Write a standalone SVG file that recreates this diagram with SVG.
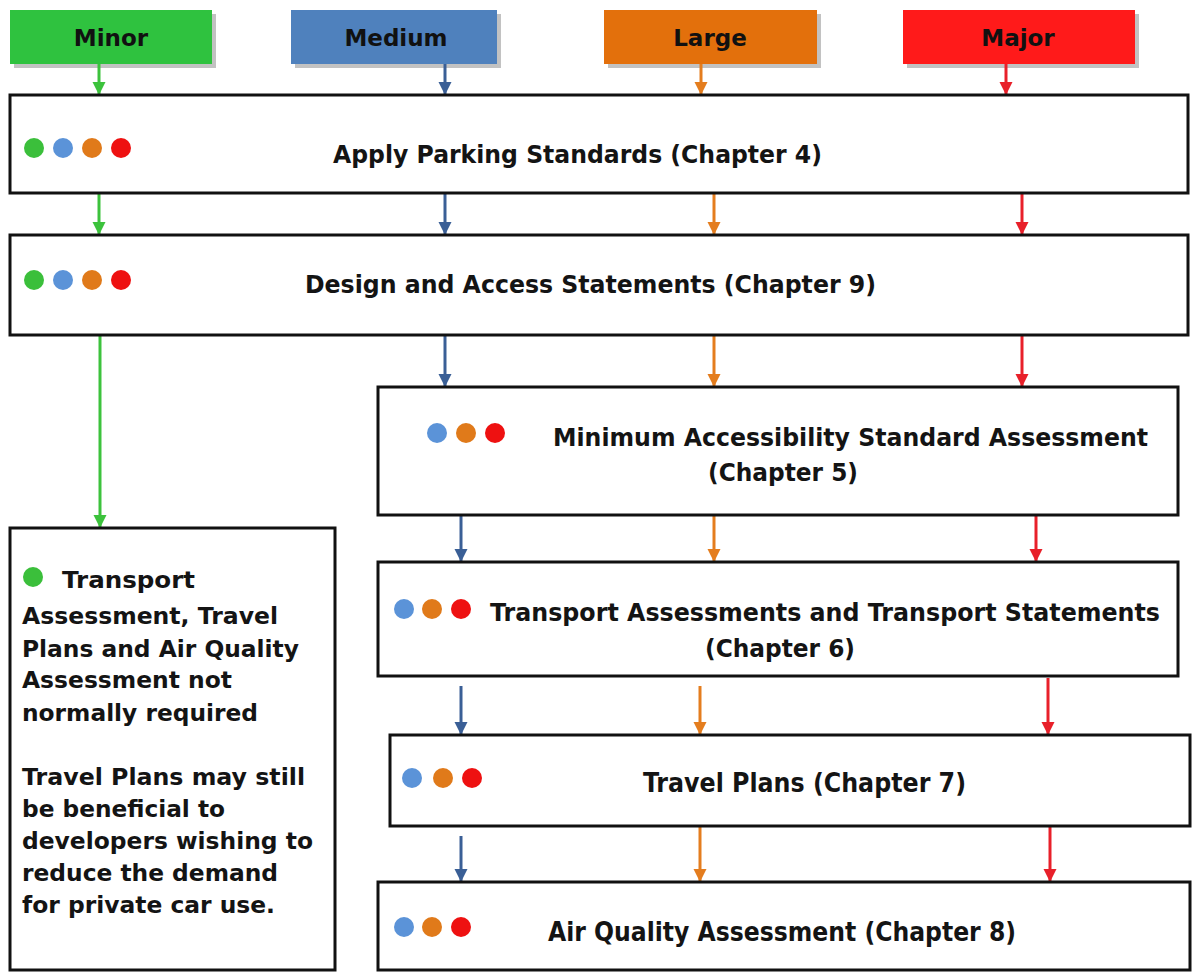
<svg xmlns="http://www.w3.org/2000/svg" width="1200" height="978" viewBox="0 0 1200 978">
  <style>
    .box { fill: #ffffff; stroke: #111111; stroke-width: 3; }
    .shadow { fill: #9a9a9a; opacity: 0.6; }
    .lbl { font-family: "DejaVu Sans", Verdana, sans-serif; font-weight: bold; font-size: 24px; fill: #141414; }
    .note { font-family: "DejaVu Sans", Verdana, sans-serif; font-weight: bold; font-size: 23.5px; fill: #141414; }
    .cond { font-family: "DejaVu Sans Condensed", "DejaVu Sans", sans-serif; font-weight: bold; font-size: 27px; fill: #141414; }
    .hdr { font-family: "DejaVu Sans", Verdana, sans-serif; font-weight: bold; font-size: 23px; fill: #111111; }
    .g { stroke: #3cc23c; }
    .b { stroke: #3a5f96; }
    .o { stroke: #e47d1e; }
    .r { stroke: #e8202a; }
    .conn line { stroke-width: 3; fill: none; }
  </style>
  <defs>
    <marker id="ah-g" viewBox="0 0 10 10" refX="10" refY="5" markerWidth="4.5" markerHeight="4.5" orient="auto" markerUnits="strokeWidth"><path d="M0,0 L10,5 L0,10 z" fill="#3cc23c"/></marker>
    <marker id="ah-b" viewBox="0 0 10 10" refX="10" refY="5" markerWidth="4.5" markerHeight="4.5" orient="auto" markerUnits="strokeWidth"><path d="M0,0 L10,5 L0,10 z" fill="#3a5f96"/></marker>
    <marker id="ah-o" viewBox="0 0 10 10" refX="10" refY="5" markerWidth="4.5" markerHeight="4.5" orient="auto" markerUnits="strokeWidth"><path d="M0,0 L10,5 L0,10 z" fill="#e47d1e"/></marker>
    <marker id="ah-r" viewBox="0 0 10 10" refX="10" refY="5" markerWidth="4.5" markerHeight="4.5" orient="auto" markerUnits="strokeWidth"><path d="M0,0 L10,5 L0,10 z" fill="#e8202a"/></marker>
  </defs>

  <rect width="1200" height="978" fill="#ffffff"/>

  <!-- category headers -->
  <g id="hdr-minor">
    <rect class="shadow" x="14" y="14" width="202" height="54"/>
    <rect x="10" y="10" width="202" height="54" fill="#2fc23f"/>
    <text class="hdr" x="111" y="46" text-anchor="middle">Minor</text>
  </g>
  <g id="hdr-medium">
    <rect class="shadow" x="295" y="14" width="206" height="54"/>
    <rect x="291" y="10" width="206" height="54" fill="#4f81bd"/>
    <text class="hdr" x="396" y="46" text-anchor="middle">Medium</text>
  </g>
  <g id="hdr-large">
    <rect class="shadow" x="608" y="14" width="213" height="54"/>
    <rect x="604" y="10" width="213" height="54" fill="#e3700c"/>
    <text class="hdr" x="710" y="46" text-anchor="middle">Large</text>
  </g>
  <g id="hdr-major">
    <rect class="shadow" x="907" y="14" width="232" height="54"/>
    <rect x="903" y="10" width="232" height="54" fill="#ff1a1a"/>
    <text class="hdr" x="1018" y="46" text-anchor="middle">Major</text>
  </g>

  <!-- connectors -->
  <g id="connectors" class="conn">
    <line class="g" x1="99" y1="64" x2="99" y2="95" marker-end="url(#ah-g)"/>
    <line class="b" x1="445" y1="64" x2="445" y2="95" marker-end="url(#ah-b)"/>
    <line class="o" x1="701" y1="64" x2="701" y2="95" marker-end="url(#ah-o)"/>
    <line class="r" x1="1006" y1="64" x2="1006" y2="95" marker-end="url(#ah-r)"/>

    <line class="g" x1="99" y1="193" x2="99" y2="235" marker-end="url(#ah-g)"/>
    <line class="b" x1="445" y1="193" x2="445" y2="235" marker-end="url(#ah-b)"/>
    <line class="o" x1="714" y1="193" x2="714" y2="235" marker-end="url(#ah-o)"/>
    <line class="r" x1="1022" y1="193" x2="1022" y2="235" marker-end="url(#ah-r)"/>

    <line class="g" x1="100" y1="335" x2="100" y2="528" marker-end="url(#ah-g)"/>
    <line class="b" x1="445" y1="335" x2="445" y2="387" marker-end="url(#ah-b)"/>
    <line class="o" x1="714" y1="335" x2="714" y2="387" marker-end="url(#ah-o)"/>
    <line class="r" x1="1022" y1="335" x2="1022" y2="387" marker-end="url(#ah-r)"/>

    <line class="b" x1="461" y1="515" x2="461" y2="562" marker-end="url(#ah-b)"/>
    <line class="o" x1="714" y1="515" x2="714" y2="562" marker-end="url(#ah-o)"/>
    <line class="r" x1="1036" y1="515" x2="1036" y2="562" marker-end="url(#ah-r)"/>

    <line class="b" x1="461" y1="686" x2="461" y2="735" marker-end="url(#ah-b)"/>
    <line class="o" x1="700" y1="686" x2="700" y2="735" marker-end="url(#ah-o)"/>
    <line class="r" x1="1048" y1="678" x2="1048" y2="735" marker-end="url(#ah-r)"/>

    <line class="b" x1="461" y1="836" x2="461" y2="882" marker-end="url(#ah-b)"/>
    <line class="o" x1="700" y1="826" x2="700" y2="882" marker-end="url(#ah-o)"/>
    <line class="r" x1="1050" y1="826" x2="1050" y2="882" marker-end="url(#ah-r)"/>
  </g>

  <!-- process boxes -->
  <g id="parking">
    <rect class="box" x="10" y="95" width="1178" height="98"/>
    <circle cx="34" cy="148" r="10" fill="#3bbf3b"/>
    <circle cx="63" cy="148" r="10" fill="#5b93d8"/>
    <circle cx="92" cy="148" r="10" fill="#e07a1a"/>
    <circle cx="121" cy="148" r="10" fill="#ee1111"/>
    <text class="lbl" x="333" y="163" textLength="489" lengthAdjust="spacingAndGlyphs">Apply Parking Standards (Chapter 4)</text>
  </g>

  <g id="design-access">
    <rect class="box" x="10" y="235" width="1178" height="100"/>
    <circle cx="34" cy="280" r="10" fill="#3bbf3b"/>
    <circle cx="63" cy="280" r="10" fill="#5b93d8"/>
    <circle cx="92" cy="280" r="10" fill="#e07a1a"/>
    <circle cx="121" cy="280" r="10" fill="#ee1111"/>
    <text class="lbl" x="305" y="293" textLength="571" lengthAdjust="spacingAndGlyphs">Design and Access Statements (Chapter 9)</text>
  </g>

  <g id="accessibility">
    <rect class="box" x="378" y="387" width="800" height="128"/>
    <circle cx="437" cy="433" r="10" fill="#5b93d8"/>
    <circle cx="466" cy="433" r="10" fill="#e07a1a"/>
    <circle cx="495" cy="433" r="10" fill="#ee1111"/>
    <text class="lbl" x="553" y="446" textLength="595" lengthAdjust="spacingAndGlyphs">Minimum Accessibility Standard Assessment</text>
    <text class="lbl" x="708" y="481" textLength="150" lengthAdjust="spacingAndGlyphs">(Chapter 5)</text>
  </g>

  <g id="transport-assessments">
    <rect class="box" x="378" y="562" width="800" height="114"/>
    <circle cx="404" cy="609" r="10" fill="#5b93d8"/>
    <circle cx="432" cy="609" r="10" fill="#e07a1a"/>
    <circle cx="461" cy="609" r="10" fill="#ee1111"/>
    <text class="lbl" x="490" y="621" textLength="670" lengthAdjust="spacingAndGlyphs">Transport Assessments and Transport Statements</text>
    <text class="lbl" x="705" y="657" textLength="150" lengthAdjust="spacingAndGlyphs">(Chapter 6)</text>
  </g>

  <g id="travel-plans">
    <rect class="box" x="390" y="735" width="800" height="91"/>
    <circle cx="412" cy="778" r="10" fill="#5b93d8"/>
    <circle cx="443" cy="778" r="10" fill="#e07a1a"/>
    <circle cx="472" cy="778" r="10" fill="#ee1111"/>
    <text class="cond" x="643" y="792" textLength="323" lengthAdjust="spacingAndGlyphs">Travel Plans (Chapter 7)</text>
  </g>

  <g id="air-quality">
    <rect class="box" x="378" y="882" width="812" height="88"/>
    <circle cx="404" cy="927" r="10" fill="#5b93d8"/>
    <circle cx="432" cy="927" r="10" fill="#e07a1a"/>
    <circle cx="461" cy="927" r="10" fill="#ee1111"/>
    <text class="cond" x="548" y="941" textLength="468" lengthAdjust="spacingAndGlyphs">Air Quality Assessment (Chapter 8)</text>
  </g>

  <g id="minor-note">
    <rect class="box" x="10" y="528" width="325" height="442"/>
    <circle cx="33" cy="577" r="10" fill="#3bbf3b"/>
    <text class="note" x="62" y="588" textLength="133" lengthAdjust="spacingAndGlyphs">Transport</text>
    <text class="note" x="22" y="624" textLength="256" lengthAdjust="spacingAndGlyphs">Assessment, Travel</text>
    <text class="note" x="22" y="657" textLength="277" lengthAdjust="spacingAndGlyphs">Plans and Air Quality</text>
    <text class="note" x="22" y="688" textLength="210" lengthAdjust="spacingAndGlyphs">Assessment not</text>
    <text class="note" x="22" y="721" textLength="236" lengthAdjust="spacingAndGlyphs">normally required</text>
    <text class="note" x="22" y="785" textLength="283" lengthAdjust="spacingAndGlyphs">Travel Plans may still</text>
    <text class="note" x="22" y="817" textLength="203" lengthAdjust="spacingAndGlyphs">be beneficial to</text>
    <text class="note" x="22" y="849" textLength="291" lengthAdjust="spacingAndGlyphs">developers wishing to</text>
    <text class="note" x="22" y="881" textLength="256" lengthAdjust="spacingAndGlyphs">reduce the demand</text>
    <text class="note" x="22" y="913" textLength="253" lengthAdjust="spacingAndGlyphs">for private car use.</text>
  </g>
</svg>
